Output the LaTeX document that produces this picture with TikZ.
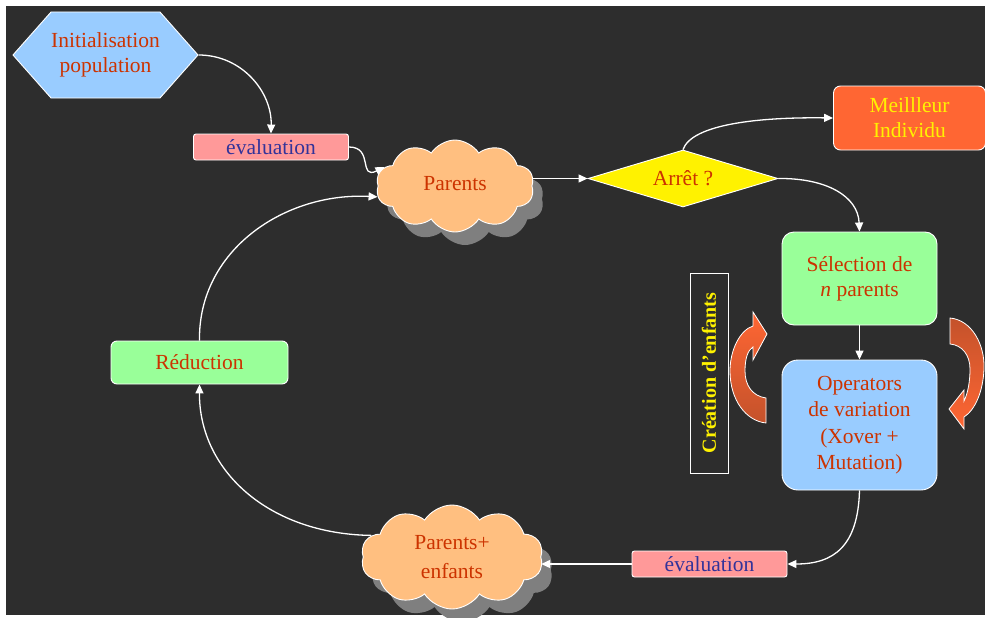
\documentclass[tikz,border=0pt]{standalone}
\usepackage{fontspec}
\setmainfont{Liberation Serif}
\usetikzlibrary{shapes.symbols,shapes.geometric,shadows,arrows.meta}
\definecolor{bg}{HTML}{2D2D2D}
\definecolor{txtred}{HTML}{CC3300}
\definecolor{txtblue}{HTML}{333399}
\definecolor{skyfill}{HTML}{99CCFF}
\definecolor{pinkfill}{HTML}{FF9999}
\definecolor{cloudfill}{HTML}{FFBF80}
\definecolor{mintfill}{HTML}{99FF99}
\definecolor{bestfill}{HTML}{FF6633}
\definecolor{arrbright}{HTML}{FF6633}
\definecolor{arrdark}{HTML}{C4522B}
\definecolor{shadowgray}{HTML}{7F7F7F}
\tikzset{
  basefont/.style={font=\fontsize{21.5}{25}\selectfont, align=center, inner sep=0pt},
  framed/.style={draw=white, line width=0.9pt},
  hexnode/.style={basefont, framed, shape=signal, signal to=west and east,
    signal pointer angle=97, fill=skyfill, text=txtred,
    minimum width=185pt, minimum height=86pt},
  evalbox/.style={basefont, framed, rectangle, rounded corners=2.5pt, fill=pinkfill,
    text=txtblue, minimum width=155pt, minimum height=26pt},
  cloudnode/.style={basefont, framed, cloud, cloud puffs=10, cloud puff arc=115,
    cloud ignores aspect, fill=cloudfill, text=txtred,
    drop shadow={shadow xshift=10pt, shadow yshift=-13pt, fill=shadowgray, opacity=1}},
  decision/.style={basefont, framed, diamond, aspect=3.3, fill=yellow, text=txtred,
    minimum width=190pt, minimum height=57pt},
  bestbox/.style={basefont, framed, rectangle, rounded corners=7pt, fill=bestfill,
    text=yellow, minimum width=152pt, minimum height=64pt},
  greenbox/.style={basefont, framed, rectangle, fill=mintfill, text=txtred},
  bluebox/.style={basefont, framed, rectangle, fill=skyfill, text=txtred},
  sidelabel/.style={framed, rectangle, text=yellow, inner sep=0pt,
    font=\bfseries\fontsize{20}{24}\selectfont},
  conn/.style={draw=white, line width=1.3pt, -{Triangle[length=9pt,width=8pt]}},
  bentarrow/.style={draw=white, line width=0.8pt}
}
\begin{document}
\begin{tikzpicture}[x=1pt,y=-1pt]
\useasboundingbox (0,0) rectangle (985,618);
\fill[white] (0,0) rectangle (985,618);
\fill[bg] (6,6) rectangle (985,615);

% flow nodes
\node[hexnode] (init) at (105.5,55) {Initialisation\\population};
\node[evalbox] (eval1) at (271,147) {évaluation};
\node[cloudnode, minimum width=158pt, minimum height=92pt] (par) at (455,186)
  {\raisebox{6pt}{Parents}};
\node[decision] (stop) at (683,178.5) {Arrêt ?};
\node[bestbox] (best) at (909.5,118) {Meillleur\\Individu};
\node[greenbox, rounded corners=12pt, minimum width=155pt, minimum height=93pt]
  (sel) at (859.5,278.5) {Sélection de\\\textit{n} parents};
\node[bluebox, rounded corners=16pt, minimum width=155pt, minimum height=130pt,
  font=\fontsize{21.5}{26.5}\selectfont]
  (ops) at (859.5,425) {Operators\\de variation\\(Xover +\\Mutation)};
\node[sidelabel, rotate=90, minimum width=200pt, minimum height=38pt]
  (crea) at (709,373) {Création d'enfants};
\node[evalbox] (eval2) at (709.5,564) {évaluation};
\node[cloudnode, minimum width=182pt, minimum height=104pt,
  font=\fontsize{21.5}{29}\selectfont] (mix) at (452,557)
  {Parents+\\enfants};
\node[greenbox, rounded corners=6pt, minimum width=177pt, minimum height=43pt]
  (red) at (199.5,362.5) {Réduction};

% connectors
\draw[conn] (init.east) .. controls (242,55) and (272,92) .. (eval1.north);
\draw[conn] (eval1.east) .. controls (374,147) and (358,180) .. (par.165);
\draw[conn] (red.north) .. controls (198,250) and (285,192) .. (par.188);
\draw[conn] (par.east |- stop.west) -- (stop.west);
\draw[conn] (stop.north) .. controls (692,124) and (760,117) .. (best.west);
\draw[conn] (stop.east) .. controls (826,178) and (858,196) .. (sel.north);
\draw[conn] (sel.south) -- (ops.north);
\draw[conn] (ops.south) .. controls (858,546) and (834,564) .. (eval2.east);
\draw[conn] (eval2.west) -- (eval2.west -| mix.east);
\draw[conn] (mix.165) .. controls (268,534) and (199,470) .. (red.south);

% curved block arrows beside the variation step
\draw[bentarrow, top color=arrbright, bottom color=arrdark]
  (766,423) -- (766,398)
  .. controls (752,396) and (745,385) .. (745,371)
  .. controls (745,358) and (748,350) .. (753,347)
  -- (753,360) -- (767,334) -- (753,312) -- (753,326)
  .. controls (740,330) and (730,350) .. (730,371)
  .. controls (730,400) and (746,421) .. (766,423) -- cycle;
\draw[bentarrow, top color=arrdark, bottom color=arrbright]
  (950,318)
  .. controls (972,320) and (985,345) .. (984,369)
  .. controls (983,392) and (975,410) .. (964,417)
  -- (964,429) -- (949,409) -- (964,390) -- (964,401)
  .. controls (968,393) and (970,381) .. (970,369)
  .. controls (970,355) and (962,345) .. (950,344) -- cycle;
\end{tikzpicture}
\end{document}
